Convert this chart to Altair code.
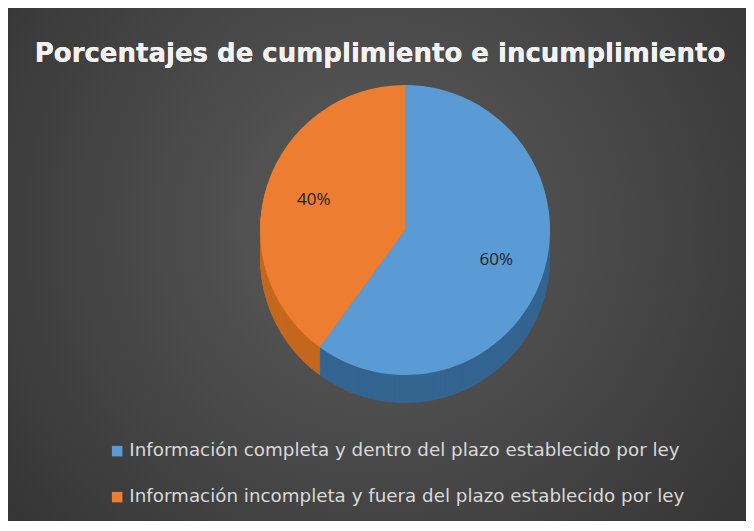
import altair as alt
import pandas as pd

TITLE = "Porcentajes de cumplimiento e incumplimiento"
CATEGORIES = [
    "Información completa y dentro del plazo establecido por ley",
    "Información incompleta y fuera del plazo establecido por ley",
]
VALUES = [60, 40]
LABELS = ["60%", "40%"]
TOP_COLORS = ["#5b9bd5", "#ed7d31"]
SIDE_COLORS = ["#346591", "#c4681f"]

W, H = 738, 513
CX, CY = 397, 222
R = 145
DEPTH = 28

df = pd.DataFrame({
    "cat": CATEGORIES,
    "value": VALUES,
    "label": LABELS,
    "side": SIDE_COLORS,
    "idx": list(range(len(CATEGORIES))),
})

base = alt.Chart(df)

bg = base.mark_rect(
    color={
        "gradient": "radial",
        "x1": 0.5, "y1": 0.45, "r1": 0.0,
        "x2": 0.5, "y2": 0.45, "r2": 0.75,
        "stops": [
            {"offset": 0, "color": "#5c5c5c"},
            {"offset": 1, "color": "#2e2e2e"},
        ],
    }
).encode(
    x=alt.value(0), x2=alt.value(W), y=alt.value(0), y2=alt.value(H)
)

layers = [bg]

for d in range(DEPTH, 0, -1):
    side = base.mark_arc(outerRadius=R, stroke=None).encode(
        theta=alt.Theta("value:Q", stack=True),
        order=alt.Order("idx:Q"),
        color=alt.Color("side:N", scale=None, legend=None),
        x=alt.value(CX),
        y=alt.value(CY + d),
    )
    layers.append(side)

top = base.mark_arc(outerRadius=R).encode(
    theta=alt.Theta("value:Q", stack=True),
    order=alt.Order("idx:Q"),
    color=alt.Color(
        "cat:N",
        scale=alt.Scale(domain=CATEGORIES, range=TOP_COLORS),
        legend=alt.Legend(
            title=None,
            orient="none",
            legendX=100,
            legendY=434,
            direction="vertical",
            symbolType="square",
            symbolSize=110,
            symbolStrokeWidth=0,
            labelFont="DejaVu Sans",
            labelFontSize=18.3,
            labelColor="#d9d9d9",
            labelLimit=700,
            rowPadding=27,
            labelOffset=3,
        ),
    ),
    x=alt.value(CX),
    y=alt.value(CY),
)
layers.append(top)

labels = base.mark_text(
    radius=96, font="Open Sans", fontSize=17, color="#1e1e1e"
).encode(
    theta=alt.Theta("value:Q", stack=True),
    order=alt.Order("idx:Q"),
    text="label:N",
    x=alt.value(CX),
    y=alt.value(CY),
)
layers.append(labels)

title = base.mark_text(
    font="DejaVu Sans", fontSize=26, fontWeight="bold", color="#f2f2f2",
    align="center", baseline="alphabetic",
).encode(
    text=alt.value(TITLE),
    x=alt.value(372),
    y=alt.value(54),
)
layers.append(title)

chart = alt.layer(*layers).resolve_scale(color="independent").properties(
    width=W,
    height=H,
    padding=0,
    background="#3a3a3a",
    autosize=alt.AutoSizeParams(type="fit", contains="padding"),
).configure_view(strokeWidth=0)

chart.save("out.html", embed_options={"renderer": "svg", "actions": False})
